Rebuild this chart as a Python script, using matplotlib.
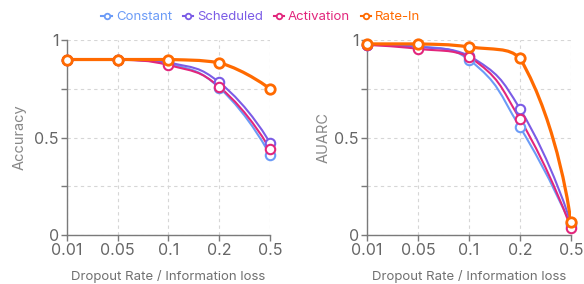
import matplotlib
matplotlib.use("Agg")
import matplotlib.pyplot as plt
import numpy as np
from matplotlib.lines import Line2D
from matplotlib.patches import PathPatch
from matplotlib.path import Path

plt.rcParams["font.family"] = ["Inter", "DejaVu Sans"]

rates = ["0.01", "0.05", "0.1", "0.2", "0.5"]
methods = ["Constant", "Scheduled", "Activation", "Rate-In"]
colors = ["#6b9bf7", "#7b5ce6", "#e2267c", "#ff6a00"]

accuracy = {
    "Constant": [0.90, 0.90, 0.88, 0.755, 0.41],
    "Scheduled": [0.90, 0.90, 0.885, 0.783, 0.473],
    "Activation": [0.90, 0.90, 0.872, 0.76, 0.44],
    "Rate-In": [0.90, 0.90, 0.90, 0.884, 0.75],
}
auarc = {
    "Constant": [0.975, 0.97, 0.90, 0.553, 0.05],
    "Scheduled": [0.975, 0.965, 0.92, 0.647, 0.06],
    "Activation": [0.975, 0.955, 0.915, 0.594, 0.035],
    "Rate-In": [0.98, 0.98, 0.965, 0.907, 0.067],
}


def smooth_path(xs, ys, sx=51.0, sy=195.0, smooth=0.5):
    # echarts-like bezier smoothing, computed in pixel-ish units
    px = np.asarray(xs, float) * sx
    py = np.asarray(ys, float) * sy
    verts = [(px[0], py[0])]
    codes = [Path.MOVETO]
    cp0 = (px[0], py[0])
    n = len(px)
    for i in range(1, n):
        x, y = px[i], py[i]
        if i == n - 1:
            cp1 = (x, y)
            nxt = None
        else:
            prx, pry = px[i - 1], py[i - 1]
            nx, ny = px[i + 1], py[i + 1]
            vx, vy = nx - prx, ny - pry
            l0 = np.hypot(x - prx, y - pry)
            l1 = np.hypot(nx - x, ny - y)
            r = l1 / (l0 + l1)
            c1x = x - vx * smooth * (1 - r)
            c1y = y - vy * smooth * (1 - r)
            c1x = min(max(c1x, min(prx, x)), max(prx, x))
            c1y = min(max(c1y, min(pry, y)), max(pry, y))
            n0x = x + vx * smooth * r
            n0y = y + vy * smooth * r
            n0x = min(max(n0x, min(nx, x)), max(nx, x))
            n0y = min(max(n0y, min(ny, y)), max(ny, y))
            cp1 = (c1x, c1y)
            nxt = (n0x, n0y)
        verts += [cp0, cp1, (x, y)]
        codes += [Path.CURVE4] * 3
        if nxt is not None:
            cp0 = nxt
    verts = [(a / sx, b / sy) for a, b in verts]
    return Path(verts, codes)


def draw_panel(ax, data, ylabel, ylabel_x):
    xs = np.arange(len(rates))
    for name, color in zip(methods, colors):
        lw = 2.3 if name == "Rate-In" else 1.5
        path = smooth_path(xs, data[name])
        ax.add_patch(PathPatch(path, fill=False, edgecolor=color, lw=lw,
                               capstyle="round", joinstyle="round", zorder=3))
    for name, color in zip(methods, colors):
        mew = 2.0 if name == "Rate-In" else 1.5
        ax.plot(xs, data[name], ls="none", marker="o", ms=6.8, mfc="white",
                mec=color, mew=mew, zorder=4, clip_on=False)

    ax.set_xlim(0, len(rates) - 1)
    ax.set_ylim(0, 1)
    ax.set_xticks(xs)
    ax.set_xticklabels(rates)
    ax.set_yticks([0, 0.25, 0.5, 0.75, 1])
    ax.set_yticklabels(["0", "", "0.5", "", "1"])
    ax.grid(True, ls=(0, (3, 3)), color="#d6d6d6", lw=0.8, zorder=0)
    for side in ("top", "right"):
        ax.spines[side].set_visible(False)
    for side in ("left", "bottom"):
        ax.spines[side].set_color("#7a7a7a")
        ax.spines[side].set_linewidth(1.0)
    ax.tick_params(axis="both", colors="#7a7a7a", labelcolor="#666666",
                   labelsize=11.5, length=4, width=1.0, pad=2)
    ax.set_ylabel(ylabel, color="#888888", fontsize=10.5)
    ax.yaxis.set_label_coords(ylabel_x, 0.5)
    ax.set_xlabel("Dropout Rate / Information loss", color="#707070", fontsize=9.5)
    ax.xaxis.set_label_coords(0.5, -0.18)


fig = plt.figure(figsize=(5.84, 2.84), dpi=100)
ax1 = fig.add_axes([0.1147, 0.1725, 0.3476, 0.6866])
ax2 = fig.add_axes([0.6284, 0.1725, 0.3493, 0.6866])
draw_panel(ax1, accuracy, "Accuracy", -0.197)
draw_panel(ax2, auarc, "AUARC", -0.176)

handles = [Line2D([], [], color=c, lw=1.5, marker="o", ms=4.0, mfc="white",
                  mec=c, mew=1.3) for c in colors]
leg = fig.legend(handles, methods, loc="center", bbox_to_anchor=(0.447, 0.94),
                 ncol=4, frameon=False, fontsize=9.5, handlelength=0.8,
                 handletextpad=0.3, columnspacing=0.8)
for text, c in zip(leg.get_texts(), colors):
    text.set_color(c)

fig.savefig("out.png", dpi=100)
